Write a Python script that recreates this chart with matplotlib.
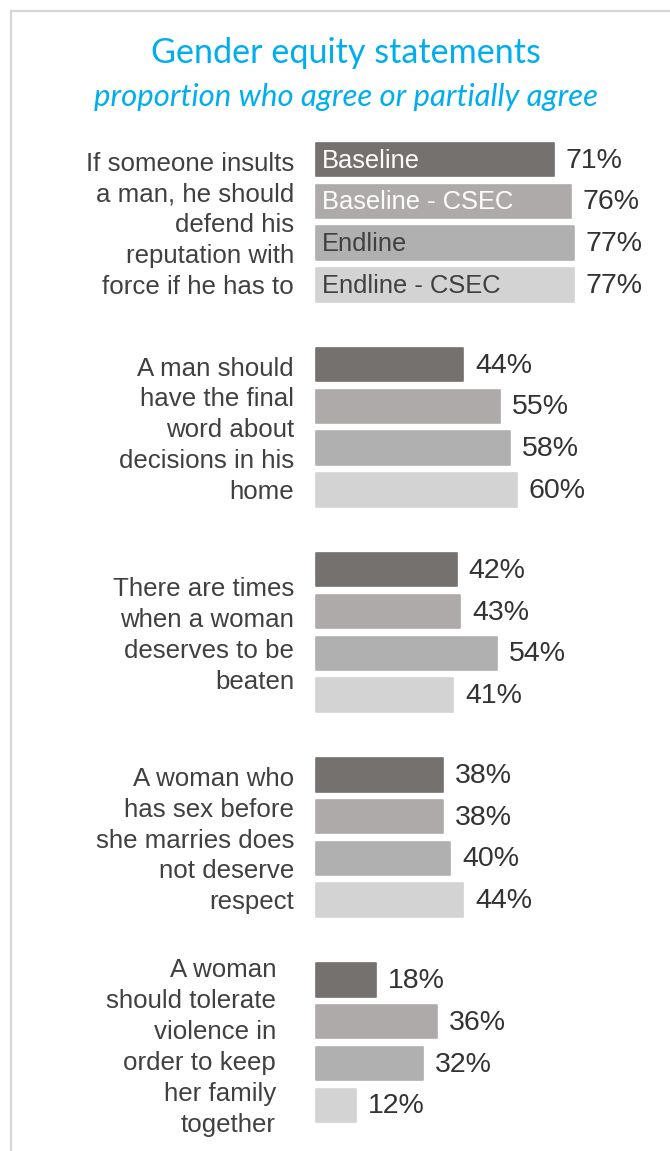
import matplotlib
matplotlib.use("Agg")
import matplotlib.pyplot as plt
from matplotlib.lines import Line2D

# --- data -------------------------------------------------------------
statements = [
    "If someone insults\na man, he should\ndefend his\nreputation with\nforce if he has to",
    "A man should\nhave the final\nword about\ndecisions in his\nhome",
    "There are times\nwhen a woman\ndeserves to be\nbeaten",
    "A woman who\nhas sex before\nshe marries does\nnot deserve\nrespect",
    "A woman\nshould tolerate\nviolence in\norder to keep\nher family\ntogether",
]
series = ["Baseline", "Baseline - CSEC", "Endline", "Endline - CSEC"]
baseline = [71, 44, 42, 38, 18]
baseline_csec = [76, 55, 43, 38, 36]
endline = [77, 58, 54, 40, 32]
endline_csec = [77, 60, 41, 44, 12]
values = [baseline, baseline_csec, endline, endline_csec]

# --- style ------------------------------------------------------------
bar_colors = ["#75716f", "#aeaaa9", "#b0b0b0", "#d3d3d3"]
inbar_text = ["#ffffff", "#ffffff", "#404040", "#404040"]
text_color = "#404040"
title_color = "#00aeef"
body_font = "Liberation Sans"

W, H, DPI = 670, 1151, 100
PX_PER_PCT = 3.35
BAR_LEFT = 316

fig = plt.figure(figsize=(W / DPI, H / DPI), dpi=DPI)
ax = fig.add_axes([0, 0, 1, 1])
ax.set_xlim(-BAR_LEFT / PX_PER_PCT, (W - BAR_LEFT) / PX_PER_PCT)
ax.set_ylim(H, 0)
ax.axis("off")

# panel frame (top and left edges)
fig.add_artist(Line2D([11 / W, 11 / W], [0, 1 - 11 / H], color="#d6d6d6", lw=1.6,
                      transform=fig.transFigure))
fig.add_artist(Line2D([11 / W, 1], [1 - 11 / H, 1 - 11 / H], color="#d6d6d6", lw=1.6,
                      transform=fig.transFigure))

# titles
fig.text(345.5 / W, 1 - 53 / H, "Gender equity statements", ha="center", va="center",
         fontsize=24.6, color=title_color, family="Lato")
fig.text(346.5 / W, 1 - 97 / H, "proportion who agree or partially agree", ha="center",
         va="center", fontsize=22.4, color=title_color, family="Lato", style="italic")

# layout of groups
group_top = 159.5
group_step = 205.1
bar_step = 41.8
bar_h = 33.5
label_right = [294, 294, 294, 294, 276]
label_dy = [3, 3, 3, 3, 5]

for g, stmt in enumerate(statements):
    centers = [group_top + g * group_step + i * bar_step for i in range(len(series))]
    for i, name in enumerate(series):
        v = values[i][g]
        ax.barh(centers[i], v, height=bar_h, left=0, color=bar_colors[i],
                edgecolor=bar_colors[i], linewidth=1.2, joinstyle="round")
        ax.text(v + 12 / PX_PER_PCT, centers[i] + 1, f"{v}%", ha="left", va="center",
                fontsize=20.5, color="#333333", family=body_font)
        if g == 0:
            ax.text(6 / PX_PER_PCT, centers[i] + 1, name, ha="left", va="center",
                    fontsize=18.4, color=inbar_text[i], family=body_font)
    gc = (centers[0] + centers[-1]) / 2 + label_dy[g]
    ax.text((label_right[g] - BAR_LEFT) / PX_PER_PCT, gc, stmt, ha="right", va="center",
            fontsize=18.6, color=text_color, family=body_font, linespacing=1.36,
            multialignment="right")

fig.savefig("out.png", dpi=DPI)
